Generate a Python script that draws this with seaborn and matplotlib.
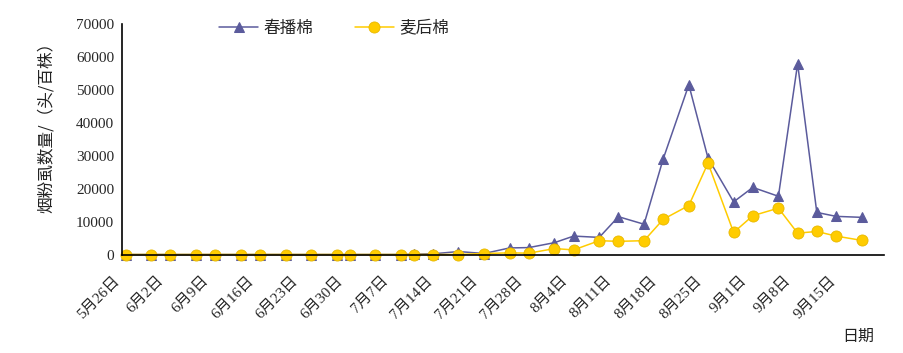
import pandas as pd
import numpy as np
import matplotlib
matplotlib.use('Agg')
import matplotlib.pyplot as plt
import matplotlib.transforms as mtransforms
import seaborn as sns

# 调查日期（月-日）
dates = ['5-26', '5-30', '6-2', '6-6', '6-9', '6-13', '6-16', '6-20', '6-24', '6-28',
         '6-30', '7-4', '7-8', '7-10', '7-13', '7-17', '7-21', '7-25', '7-28', '8-1',
         '8-4', '8-8', '8-11', '8-15', '8-18', '8-22', '8-25', '8-29', '9-1', '9-5',
         '9-8', '9-11', '9-14', '9-18']

# 春播棉
spring_cotton = [0, 0, 0, 0, 0, 0, 0, 0, 0, 0,
                 0, 0, 0, 100, 200, 900, 300, 2000, 2100, 3600,
                 5600, 5200, 11500, 9200, 29100, 51600, 29300, 16000, 20400, 17700,
                 58000, 12800, 11600, 11300]

# 麦后棉
wheat_cotton = [0, 0, 0, 0, 0, 0, 0, 0, 0, 0,
                0, 0, 0, 0, 0, 0, 300, 500, 400, 1800,
                1400, 4200, 4000, 4200, 10700, 14900, 27800, 6700, 11800, 14100,
                6500, 7000, 5600, 4300]

tick_dates = ['5-26', '6-2', '6-9', '6-16', '6-23', '6-30', '7-7', '7-14', '7-21',
              '7-28', '8-4', '8-11', '8-18', '8-25', '9-1', '9-8', '9-15', '9-22']
tick_labels = ['5月26日', '6月2日', '6月9日', '6月16日', '6月23日', '6月30日', '7月7日',
               '7月14日', '7月21日', '7月28日', '8月4日', '8月11日', '8月18日', '8月25日',
               '9月1日', '9月8日', '9月15日', '']

start = pd.Timestamp('2010-05-26')
to_day = lambda s: (pd.to_datetime('2010-' + pd.Series(s)) - start).dt.days.to_numpy()

df = pd.DataFrame({'day': to_day(dates) + 0.5,
                   '春播棉': spring_cotton,
                   '麦后棉': wheat_cotton})
ticks = to_day(tick_dates)

sns.set_style('white')
plt.rcParams['font.family'] = ['Liberation Serif', 'Noto Sans CJK SC']
plt.rcParams['axes.unicode_minus'] = False

fig = plt.figure(figsize=(9.04, 3.53), dpi=100)
ax = fig.add_axes([122.5 / 904, 1 - 254.5 / 353, 761.5 / 904, 230.2 / 353])

blue = '#5B5B9C'
yellow = '#FFCC00'
sns.lineplot(data=df, x='day', y='春播棉', ax=ax, color=blue, marker='^', markersize=7.5,
             markeredgecolor=blue, linewidth=1.1, label='春播棉', clip_on=False)
sns.lineplot(data=df, x='day', y='麦后棉', ax=ax, color=yellow, marker='o', markersize=8,
             markeredgecolor='#E8B800', markeredgewidth=0.6, linewidth=1.1, label='麦后棉',
             clip_on=False)

ax.set_xlim(ticks[0], ticks[-1])
ax.set_ylim(0, 70000)
ax.set_yticks(np.arange(0, 70001, 10000))
ax.set_xticks(ticks)
ax.set_xticklabels(tick_labels, rotation=45, ha='right', rotation_mode='anchor', fontsize=11)
ax.tick_params(axis='y', labelsize=11, direction='in', length=4, width=1, pad=6)
ax.tick_params(axis='x', direction='in', length=4, width=1, pad=14)
shift = mtransforms.ScaledTranslation(-0.10, 0, fig.dpi_scale_trans)
for lab in ax.get_xticklabels():
    lab.set_transform(lab.get_transform() + shift)
ax.set_xlabel('')
ax.set_ylabel('')

for s in ['top', 'right']:
    ax.spines[s].set_visible(False)
for s in ['left', 'bottom']:
    ax.spines[s].set_color('black')
    ax.spines[s].set_linewidth(1.2)

leg = ax.legend(loc='center', bbox_to_anchor=(334 / 904, 1 - 28 / 353),
                bbox_transform=fig.transFigure, ncol=2, frameon=False,
                handlelength=2.35, columnspacing=2.5, handletextpad=0.3,
                prop={'family': ['Noto Sans CJK SC'], 'size': 12})

fig.text(46 / 904, 1 - 123 / 353, '烟粉虱数量/（头/百株）', rotation=90, ha='center',
         va='center', fontsize=12, family=['Noto Sans CJK SC'], color='#222222')
fig.text(858 / 904, 1 - 336 / 353, '日期', ha='center', va='center', fontsize=11.5,
         family=['Noto Sans CJK SC'], color='#222222')

fig.savefig('out.png', dpi=100)
